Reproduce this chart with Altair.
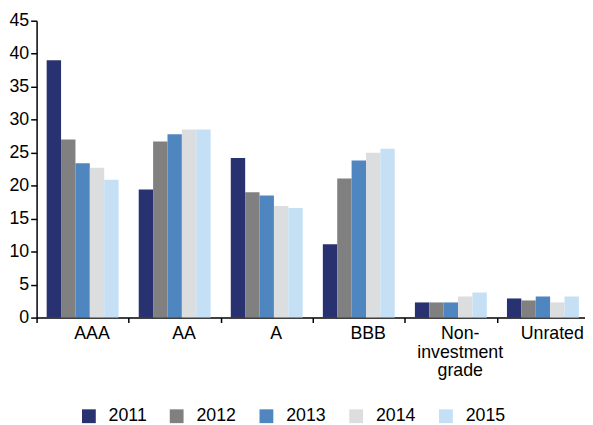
import altair as alt
import pandas as pd

categories = ["AAA", "AA", "A", "BBB", "Non-investment grade", "Unrated"]
years = ["2011", "2012", "2013", "2014", "2015"]
v2011 = [39.0, 19.4, 24.2, 11.1, 2.3, 2.9]
v2012 = [27.0, 26.7, 19.0, 21.1, 2.3, 2.6]
v2013 = [23.4, 27.8, 18.5, 23.8, 2.3, 3.2]
v2014 = [22.7, 28.5, 16.9, 25.0, 3.2, 2.3]
v2015 = [20.9, 28.5, 16.6, 25.6, 3.8, 3.2]
colors = ["#283270", "#808080", "#4f86c0", "#dcdddf", "#c5e0f4"]

series = [v2011, v2012, v2013, v2014, v2015]
rows = []
for yr, vals in zip(years, series):
    for cat, v in zip(categories, vals):
        rows.append({"category": cat, "year": yr, "value": v})
df = pd.DataFrame(rows)

FONT = "Liberation Sans"

chart = alt.Chart(df).mark_bar().encode(
    x=alt.X(
        "category:N",
        sort=categories,
        scale=alt.Scale(range=[0, 560], paddingInner=0, paddingOuter=0),
        axis=alt.Axis(
            title=None,
            labelAngle=0,
            tickBand="extent",
            labelOffset=9,
            labelPadding=2,
            tickSize=5,
            tickWidth=1.5,
            tickColor="black",
            domainColor="black",
            domainWidth=1.5,
            labelFont=FONT,
            labelFontSize=18,
            labelColor="black",
            labelLineHeight=19,
            labelExpr="datum.label == 'Non-investment grade' ? ['Non-', 'investment', 'grade'] : datum.label",
        ),
    ),
    xOffset=alt.XOffset(
        "year:N", sort=years, scale=alt.Scale(paddingInner=0, paddingOuter=0.7)
    ),
    y=alt.Y(
        "value:Q",
        scale=alt.Scale(domain=[0, 45]),
        axis=alt.Axis(
            title=None,
            values=[0, 5, 10, 15, 20, 25, 30, 35, 40, 45],
            grid=False,
            tickSize=6,
            tickWidth=1.5,
            tickColor="black",
            domainColor="black",
            domainWidth=1.5,
            labelFont=FONT,
            labelFontSize=18,
            labelColor="black",
            labelPadding=2,
        ),
    ),
    color=alt.Color(
        "year:N",
        scale=alt.Scale(domain=years, range=colors),
        legend=alt.Legend(
            title=None,
            orient="none",
            direction="horizontal",
            legendX=44,
            legendY=392,
            symbolType="square",
            symbolSize=196,
            symbolStrokeWidth=0,
            symbolOpacity=1,
            labelFont=FONT,
            labelFontSize=18,
            labelColor="black",
            labelOffset=11,
            columnPadding=21,
            padding=0,
        ),
    ),
).properties(
    width=556,
    height=301,
    autosize="none",
    padding={"left": 29, "top": 10, "right": 0, "bottom": 106},
).configure_view(strokeWidth=0)

chart.save("out.html", embed_options={"renderer": "svg", "actions": False})
